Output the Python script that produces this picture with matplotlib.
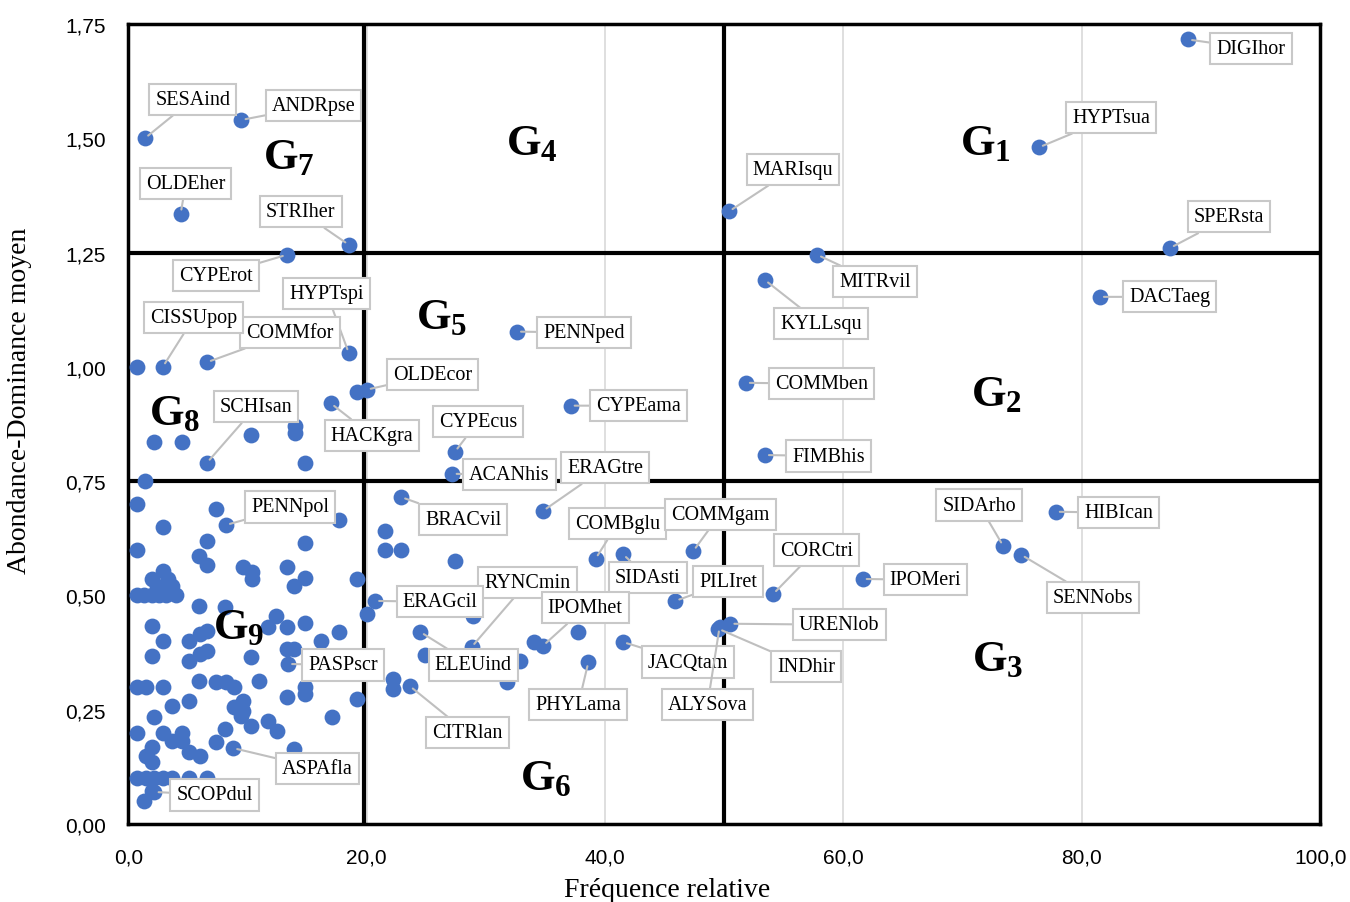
import numpy as np
import matplotlib
matplotlib.use('Agg')
from matplotlib import pyplot as plt

plt.rcParams['font.family'] = 'Liberation Serif'
plt.rcParams['mathtext.fontset'] = 'custom'
plt.rcParams['mathtext.rm'] = 'Liberation Serif'
plt.rcParams['mathtext.bf'] = 'Liberation Serif:bold'

# labelled species: code, relative frequency, mean abundance-dominance
names = ['DIGIhor', 'HYPTsua', 'SPERsta', 'MARIsqu', 'MITRvil', 'KYLLsqu', 'DACTaeg',
         'COMMben', 'FIMBhis', 'SESAind', 'ANDRpse', 'OLDEher', 'STRIher', 'CYPErot',
         'HYPTspi', 'COMMfor', 'CISSUpop', 'OLDEcor', 'HACKgra', 'SCHIsan', 'CYPEcus',
         'ACANhis', 'PENNped', 'CYPEama', 'ERAGtre', 'BRACvil', 'PENNpol', 'COMBglu',
         'COMMgam', 'SIDAsti', 'PILIret', 'CORCtri', 'IPOMeri', 'SIDArho', 'HIBIcan',
         'SENNobs', 'URENlob', 'INDhir', 'JACQtam', 'ALYSova', 'RYNCmin', 'IPOMhet',
         'ERAGcil', 'ELEUind', 'PASPscr', 'CITRlan', 'PHYLama', 'ASPAfla', 'SCOPdul']
freq = [88.9, 76.4, 87.4, 50.4, 57.8, 53.4, 81.5,
        51.8, 53.4, 1.4, 9.5, 4.4, 18.5, 13.3,
        18.5, 6.6, 2.9, 20.0, 17.0, 6.6, 27.4,
        27.2, 32.6, 37.1, 34.8, 22.9, 8.2, 39.2,
        47.4, 41.5, 45.9, 54.1, 61.6, 73.4, 77.8,
        74.9, 50.5, 49.5, 41.5, 49.6, 28.8, 34.8,
        20.7, 24.5, 13.4, 23.6, 38.6, 8.8, 2.2]
abdom = [1.716, 1.48, 1.26, 1.34, 1.245, 1.19, 1.153,
         0.965, 0.807, 1.50, 1.54, 1.335, 1.267, 1.245,
         1.03, 1.01, 1.0, 0.95, 0.92, 0.79, 0.814,
         0.766, 1.077, 0.915, 0.685, 0.715, 0.654, 0.58,
         0.597, 0.59, 0.488, 0.503, 0.536, 0.608, 0.683,
         0.589, 0.438, 0.427, 0.398, 0.43, 0.387, 0.39,
         0.488, 0.42, 0.35, 0.302, 0.354, 0.166, 0.07]

# other (unlabelled) species
other_freq = [0.7, 19.2, 2.2, 4.5, 10.3, 14.0, 14.0, 14.8, 1.4,
              21.5, 21.5, 22.9, 27.4, 20.0, 28.9, 31.8, 32.9, 24.9, 34.0, 37.7, 22.2, 22.2,
              0.7, 7.4, 2.9, 17.7, 6.6, 14.8, 0.7, 5.9, 6.6, 9.6, 10.4, 10.4, 13.3, 14.8,
              13.9, 19.2, 2.9, 2.0, 3.7, 2.4, 3.3, 0.7, 1.3, 2.0, 2.6, 3.2, 4.0,
              5.9, 8.1, 14.8, 12.4, 11.7, 13.3, 17.7, 16.2, 2.0, 2.9, 5.1, 6.0, 6.6,
              2.0, 5.1, 6.0, 6.6, 10.3, 13.3, 13.9,
              0.7, 1.5, 2.9, 5.9, 7.4, 8.2, 8.9, 11.0, 13.3, 14.8, 14.8, 19.2, 5.1, 3.7,
              9.6, 8.9, 9.6, 9.5, 2.2, 10.3, 11.7, 12.5, 8.1, 17.1, 0.7, 2.9, 4.5, 3.7,
              4.5, 7.4, 5.1, 6.0, 2.0, 1.5, 2.0, 13.9,
              0.7, 1.5, 2.2, 2.9, 3.7, 5.1, 6.6, 2.0, 1.3]
other_abdom = [1.0, 0.945, 0.835, 0.835, 0.85, 0.87, 0.855, 0.79, 0.75,
               0.64, 0.60, 0.60, 0.575, 0.46, 0.455, 0.31, 0.357, 0.37, 0.398, 0.42, 0.317, 0.295,
               0.70, 0.69, 0.65, 0.665, 0.62, 0.615, 0.60, 0.587, 0.567, 0.562, 0.552, 0.536, 0.562, 0.538,
               0.521, 0.536, 0.554, 0.536, 0.521, 0.52, 0.536, 0.50, 0.50, 0.50, 0.50, 0.50, 0.50,
               0.477, 0.475, 0.44, 0.455, 0.43, 0.43, 0.42, 0.40, 0.433, 0.40, 0.40, 0.415, 0.422,
               0.368, 0.357, 0.372, 0.379, 0.365, 0.383, 0.383,
               0.30, 0.30, 0.30, 0.313, 0.31, 0.31, 0.30, 0.313, 0.278, 0.30, 0.284, 0.273, 0.27, 0.258,
               0.27, 0.256, 0.247, 0.236, 0.234, 0.215, 0.225, 0.203, 0.207, 0.234, 0.20, 0.20, 0.20, 0.182,
               0.182, 0.18, 0.157, 0.149, 0.168, 0.149, 0.135, 0.164,
               0.10, 0.10, 0.10, 0.10, 0.10, 0.10, 0.10, 0.072, 0.05]

xticks = [0, 20, 40, 60, 80, 100]
xtick_labels = ['0,0', '20,0', '40,0', '60,0', '80,0', '100,0']
yticks = [0, 0.25, 0.5, 0.75, 1.0, 1.25, 1.5, 1.75]
ytick_labels = ['0,00', '0,25', '0,50', '0,75', '1,00', '1,25', '1,50', '1,75']

groups = ['1', '2', '3', '4', '5', '6', '7', '8', '9']
group_x = [71.9, 72.8, 72.9, 33.9, 26.3, 35.0, 13.5, 3.9, 9.3]
group_y = [1.49, 0.94, 0.36, 1.49, 1.11, 0.10, 1.46, 0.90, 0.43]
sub_low = ['7', '8', '9']

# label box offsets from the point, in pixels
offsets = {
    'DIGIhor': (63, -9), 'HYPTsua': (72, 30), 'SPERsta': (59, 31), 'MARIsqu': (64, 42),
    'MITRvil': (58, -27), 'KYLLsqu': (56, -44), 'DACTaeg': (70, 0), 'COMMben': (76, -1),
    'FIMBhis': (64, -1), 'SESAind': (48, 39), 'ANDRpse': (72, 14), 'OLDEher': (5, 30),
    'STRIher': (-48, 33), 'CYPErot': (-71, -21), 'HYPTspi': (-22, 60), 'COMMfor': (83, 30),
    'CISSUpop': (31, 49), 'OLDEcor': (66, 15), 'HACKgra': (41, -32), 'SCHIsan': (49, 56),
    'CYPEcus': (23, 30), 'ACANhis': (57, -1), 'PENNped': (67, -1), 'CYPEama': (68, 0),
    'ERAGtre': (62, 43), 'BRACvil': (62, -22), 'PENNpol': (64, 18), 'COMBglu': (22, 35),
    'COMMgam': (27, 37), 'SIDAsti': (25, -23), 'PILIret': (53, 19), 'CORCtri': (43, 44),
    'IPOMeri': (63, -1), 'SIDArho': (-24, 41), 'HIBIcan': (63, -1), 'SENNobs': (72, -43),
    'URENlob': (109, -1), 'INDhir': (88, -38), 'JACQtam': (65, -20), 'ALYSova': (-12, -77),
    'RYNCmin': (56, 65), 'IPOMhet': (42, 38), 'ERAGcil': (65, -1), 'ELEUind': (53, -33),
    'PASPscr': (55, -1), 'CITRlan': (58, -47), 'PHYLama': (-10, -42), 'ASPAfla': (84, -20),
    'SCOPdul': (60, -3),
}

blue = '#4472C4'
fig = plt.figure(figsize=(13.5, 9.03), dpi=100)
ax = fig.add_axes([0.095, 0.0864, 0.883, 0.886])

ax.set_xlim(0, 100)
ax.set_ylim(0, 1.75)
ax.set_xticks(xticks)
ax.set_xticklabels(xtick_labels, family='Liberation Sans', fontsize=15)
ax.set_yticks(yticks)
ax.set_yticklabels(ytick_labels, family='Liberation Sans', fontsize=15)
ax.tick_params(axis='x', length=0, pad=17)
ax.tick_params(axis='y', length=0, pad=16)
ax.grid(axis='x', color='#d9d9d9', lw=1.2)
ax.set_axisbelow(True)
for s in ax.spines.values():
    s.set_linewidth(2.5)

# quadrant separators
ax.axhline(1.25, color='black', lw=3, zorder=2)
ax.axhline(0.75, color='black', lw=3, zorder=2)
ax.axvline(19.8, color='black', lw=3, zorder=2)
ax.axvline(50.0, color='black', lw=3, zorder=2)

ax.scatter(other_freq, other_abdom, s=130, color=blue, zorder=3, linewidths=0)
ax.scatter(freq, abdom, s=130, color=blue, zorder=3, linewidths=0)

for n, x, y in zip(names, freq, abdom):
    dx, dy = offsets[n]
    ax.annotate(n, (x, y), xytext=(dx, dy), textcoords='offset pixels',
                ha='center', va='center', fontsize=14.5, zorder=5,
                bbox=dict(boxstyle='square,pad=0.3', fc='white', ec='#c8c8c8', lw=1.5),
                arrowprops=dict(arrowstyle='-', color='#bfbfbf', lw=1.5,
                                shrinkA=0, shrinkB=3))

for g, x, y in zip(groups, group_x, group_y):
    if g in sub_low:
        txt = r'$\mathbf{G_{%s}}$' % g
    else:
        txt = r'$\mathbf{G}$' + r'$\mathbf{_{%s}}$' % g
    ax.text(x, y, txt, fontsize=32, ha='center', va='center', zorder=4)

ax.set_xlabel('Fréquence relative', fontsize=20)
ax.set_ylabel('Abondance-Dominance moyen', fontsize=20)
ax.xaxis.set_label_coords(0.452, -0.066)
ax.yaxis.set_label_coords(-0.081, 0.53)

fig.savefig('out.png', dpi=100)
